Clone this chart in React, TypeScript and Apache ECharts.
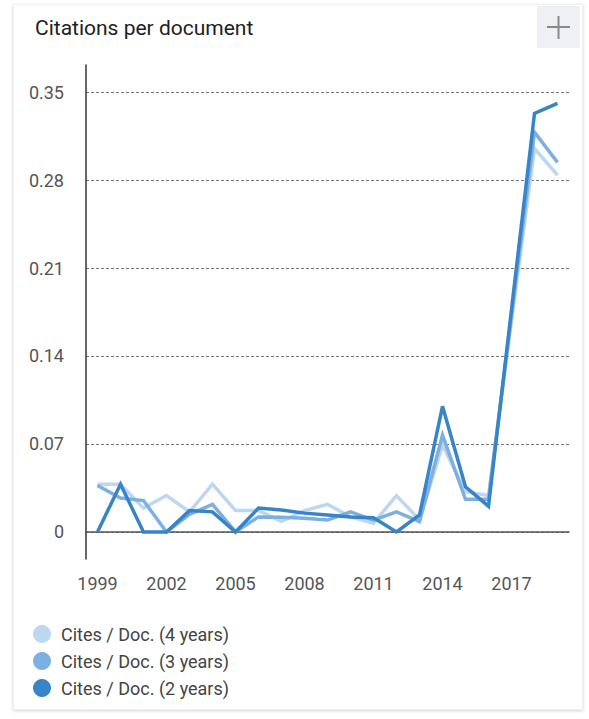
import React, { useEffect, useRef } from "react";
import * as echarts from "echarts";

const years = [
  "1999", "2000", "2001", "2002", "2003", "2004", "2005", "2006", "2007", "2008",
  "2009", "2010", "2011", "2012", "2013", "2014", "2015", "2016", "2017", "2018", "2019",
];
const cites4 = [
  0.038, 0.038, 0.019, 0.029, 0.016, 0.038, 0.017, 0.017, 0.0085, 0.017,
  0.022, 0.012, 0.007, 0.029, 0.0095, 0.069, 0.032, 0.029, 0.168, 0.305, 0.284,
];
const cites3 = [
  0.037, 0.027, 0.025, 0, 0.014, 0.022, 0, 0.012, 0.0117, 0.011,
  0.0095, 0.016, 0.0095, 0.016, 0.0082, 0.077, 0.026, 0.026, 0.172, 0.318, 0.294,
];
const cites2 = [
  0, 0.038, 0, 0, 0.017, 0.016, 0, 0.019, 0.0175, 0.015,
  0.0135, 0.012, 0.0114, 0, 0.0135, 0.1, 0.036, 0.0205, 0.177, 0.333, 0.341,
];
const yTicks = [0, 0.07, 0.14, 0.21, 0.28, 0.35];
const seriesNames = ["Cites / Doc. (4 years)", "Cites / Doc. (3 years)", "Cites / Doc. (2 years)"];
const seriesColors = ["#bcd7f0", "#7db0e2", "#3884c8"];

export default function App() {
  const ref = useRef<HTMLDivElement>(null);
  useEffect(() => {
    if (!ref.current) return;
    const chart = echarts.init(ref.current, null, { renderer: "svg" });
    const data = [cites4, cites3, cites2];
    chart.setOption({
      animation: false,
      textStyle: { fontFamily: "Roboto" },
      title: {
        text: "Citations per document",
        left: 30,
        top: 12,
        textStyle: { fontFamily: "Roboto", fontSize: 21, fontWeight: "normal", color: "#212121" },
      },
      graphic: [
        { type: "rect", shape: { x: 537, y: 6, width: 43, height: 42 }, style: { fill: "#eef0f4" } },
        { type: "line", shape: { x1: 547, y1: 27, x2: 570, y2: 27 }, style: { stroke: "#8a8a8a", lineWidth: 2 } },
        { type: "line", shape: { x1: 558.5, y1: 16, x2: 558.5, y2: 39 }, style: { stroke: "#8a8a8a", lineWidth: 2 } },
      ],
      legend: {
        orient: "vertical",
        left: 28,
        top: 620,
        icon: "circle",
        itemWidth: 28,
        itemHeight: 18,
        itemGap: 9,
        textStyle: { fontFamily: "Roboto", fontSize: 18, color: "#444" },
        data: seriesNames,
      },
      grid: { left: 86, top: 65, width: 483, height: 494, containLabel: false },
      xAxis: {
        type: "category",
        data: years,
        boundaryGap: true,
        axisLine: { show: true, lineStyle: { color: "#555", width: 1.5 } },
        axisTick: { show: false },
        axisLabel: { interval: 2, margin: 15, fontSize: 18, color: "#555", fontFamily: "Roboto" },
      },
      yAxis: {
        type: "value",
        min: -0.0215,
        max: 0.3715,
        axisLine: { show: true, lineStyle: { color: "#333", width: 1.5 } },
        axisTick: { show: false, customValues: yTicks },
        axisLabel: {
          customValues: yTicks,
          margin: 22,
          fontSize: 18,
          color: "#555",
          fontFamily: "Roboto",
          formatter: (v: number) => (v === 0 ? "0" : v.toFixed(2)),
        },
        splitLine: { show: true, lineStyle: { color: "#777", type: [3, 2], width: 1 } },
      },
      series: data.map((d, i) => ({
        name: seriesNames[i],
        type: "line",
        data: d,
        showSymbol: false,
        symbol: "circle",
        color: seriesColors[i],
        lineStyle: { width: 3.5, color: seriesColors[i], join: "miter" },
      })),
    });
    return () => chart.dispose();
  }, []);
  return (
    <div style={{ position: "fixed", left: 0, top: 0, width: 589, height: 719, background: "#fff" }}>
      <div
        style={{
          position: "absolute",
          left: 13,
          top: 4,
          width: 570,
          height: 706,
          background: "#fff",
          boxShadow: "0 1px 3px rgba(0,0,0,0.18)",
          border: "1px solid #f0f0f0",
          boxSizing: "border-box",
        }}
      />
      <div ref={ref} style={{ position: "absolute", left: 0, top: 0, width: 589, height: 719 }} />
    </div>
  );
}
